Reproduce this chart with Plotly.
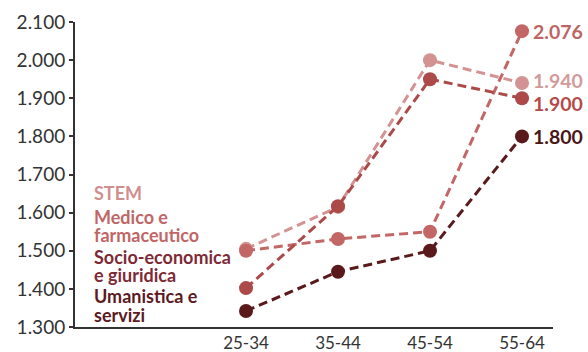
import plotly.graph_objects as go

# Age classes and median values per subject area
age_classes = ["25-34", "35-44", "45-54", "55-64"]
series_names = ["STEM", "Medico e farmaceutico", "Socio-economica e giuridica", "Umanistica e servizi"]
stem = [1505, 1615, 2000, 1940]
medico = [1500, 1531, 1550, 2076]
socio = [1402, 1617, 1950, 1900]
umanistica = [1342, 1445, 1500, 1800]
y_ticks = [1300, 1400, 1500, 1600, 1700, 1800, 1900, 2000, 2100]

line_colors = ["#d39393", "#c26666", "#ac4a4a", "#5a1a1c"]
legend_colors = ["#d08e8e", "#c06666", "#7e2a36", "#5c1a22"]
end_label_colors = ["#d39a9a", "#bd6565", "#b44a4a", "#4a1618"]
values = [stem, medico, socio, umanistica]

FONT = "Lato"
xs = list(range(len(age_classes)))


def fmt(v):
    s = f"{v:,}"
    return s.replace(",", ".")


fig = go.Figure()
for name, vals, col in zip(series_names, values, line_colors):
    fig.add_trace(go.Scatter(
        x=xs, y=vals, name=name, mode="lines+markers",
        line=dict(color=col, width=3, dash="9px,5px"),
        marker=dict(color=col, size=14),
        showlegend=False, hoverinfo="skip",
    ))

# Pixel helpers for the plot area (75..553 horizontally, 22..327 vertically)
Y0, Y1 = 1300, 2100
def py_to_val(py):
    return Y0 + (327 - py) * (Y1 - Y0) / 305.0

annotations = []
# Legend block written as text at the left of the plot
legend_lines = [
    ("STEM", 193, 0),
    ("Medico e", 216.5, 1),
    ("farmaceutico", 235, 1),
    ("Socio-economica", 256.5, 2),
    ("e giuridica", 275, 2),
    ("Umanistica e", 296, 3),
    ("servizi", 314.5, 3),
]
for txt, py, idx in legend_lines:
    annotations.append(dict(
        x=18 / 478.0, xref="paper", y=py_to_val(py), yref="y",
        text=f"<b>{txt}</b>", showarrow=False, xanchor="left", yanchor="middle",
        borderpad=0,
        font=dict(family=FONT, size=18, color=legend_colors[idx]),
    ))

# Value labels at the last age class
shifts = [3, 0, -5, 0]
for vals, col, sh in zip(values, end_label_colors, shifts):
    annotations.append(dict(
        x=xs[-1], xref="x", y=vals[-1], yref="y", xshift=9, yshift=sh,
        text=f"<b>{fmt(vals[-1])}</b>", showarrow=False, xanchor="left", yanchor="middle",
        font=dict(family=FONT, size=19.5, color=col),
    ))

fig.update_layout(
    width=588, height=352,
    margin=dict(l=75, r=35, t=22, b=25, autoexpand=False),
    paper_bgcolor="white", plot_bgcolor="white",
    annotations=annotations,
    font=dict(family=FONT, size=18, color="#333333"),
)
fig.update_xaxes(
    range=[-1.859, 3.337], tickmode="array", tickvals=xs, ticktext=age_classes,
    showgrid=False, zeroline=False, showline=True, linecolor="#333333", linewidth=2,
    ticks="", ticklabelstandoff=0, automargin=False,
    tickfont=dict(family=FONT, size=17, color="#333333"),
)
fig.update_yaxes(
    range=[Y0, Y1], tickmode="array", tickvals=y_ticks, ticktext=[fmt(v) for v in y_ticks],
    showgrid=False, zeroline=False, showline=True, linecolor="#333333", linewidth=2,
    ticks="outside", ticklen=4, tickwidth=2, tickcolor="#333333", automargin=False,
    tickfont=dict(family=FONT, size=19, color="#333333"),
)

fig.write_html("out.html")
